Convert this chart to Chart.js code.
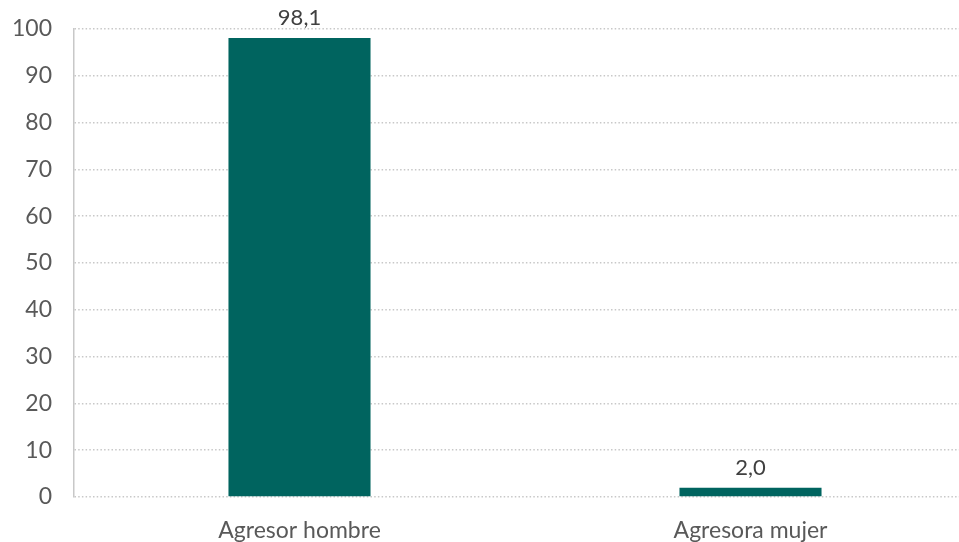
<!DOCTYPE html>
<html>
<head>
<meta charset="utf-8">
<script src="https://cdn.jsdelivr.net/npm/chart.js@4.4.0/dist/chart.umd.min.js"></script>
<style>
  html, body { margin: 0; padding: 0; background: #fff; overflow: hidden; }
  #wrap { width: 977px; height: 542px; }
</style>
</head>
<body>
<div id="wrap"><canvas id="chart" width="977" height="542"></canvas></div>
<script>
/* ---------------- DATA ---------------- */
const categories = ["Agresor hombre", "Agresora mujer"];
const values = [98.1, 2.0];
const yTicks = [0, 10, 20, 30, 40, 50, 60, 70, 80, 90, 100];

const barColor = "#00645F";
const textColor = "#595959";
const gridColor = "#c8c8c8";
const fontFamily = "Lato, 'Open Sans', sans-serif";

/* value labels above the bars, with comma decimals */
const valueLabels = {
    id: "valueLabels",
    afterDatasetsDraw(chart) {
        const ctx = chart.ctx;
        const meta = chart.getDatasetMeta(0);
        ctx.save();
        ctx.font = "22px " + fontFamily;
        ctx.fillStyle = "#404040";
        ctx.textAlign = "center";
        ctx.textBaseline = "bottom";
        meta.data.forEach((bar, i) => {
            const txt = values[i].toFixed(1).replace(".", ",");
            ctx.fillText(txt, bar.x, bar.y - 9);
        });
        ctx.restore();
    }
};

new Chart(document.getElementById("chart"), {
    type: "bar",
    data: {
        labels: categories,
        datasets: [{
            data: values,
            backgroundColor: barColor,
            barPercentage: 0.315,
            categoryPercentage: 1
        }]
    },
    options: {
        responsive: false,
        animation: false,
        layout: { padding: { top: 29, right: 1, left: 0, bottom: 0 } },
        plugins: {
            legend: { display: false },
            tooltip: { enabled: false }
        },
        scales: {
            x: {
                grid: { display: false },
                border: { display: false },
                ticks: {
                    color: textColor,
                    font: { family: fontFamily, size: 23 },
                    padding: 12
                },
                afterFit(scale) { scale.height = 45; }
            },
            y: {
                min: 0,
                max: 100,
                afterBuildTicks(scale) {
                    scale.ticks = yTicks.map(v => ({ value: v }));
                },
                grid: {
                    color: gridColor,
                    lineWidth: 1.5,
                    drawTicks: false
                },
                border: { display: true, color: gridColor, width: 1.5, dash: [1.5, 2.2] },
                ticks: {
                    color: textColor,
                    font: { family: fontFamily, size: 23 },
                    padding: 22
                },
                afterFit(scale) {
                    scale.width = 74;
                    scale.paddingTop = 0;
                    scale.paddingBottom = 0;
                }
            }
        }
    },
    plugins: [valueLabels]
});
</script>
</body>
</html>
